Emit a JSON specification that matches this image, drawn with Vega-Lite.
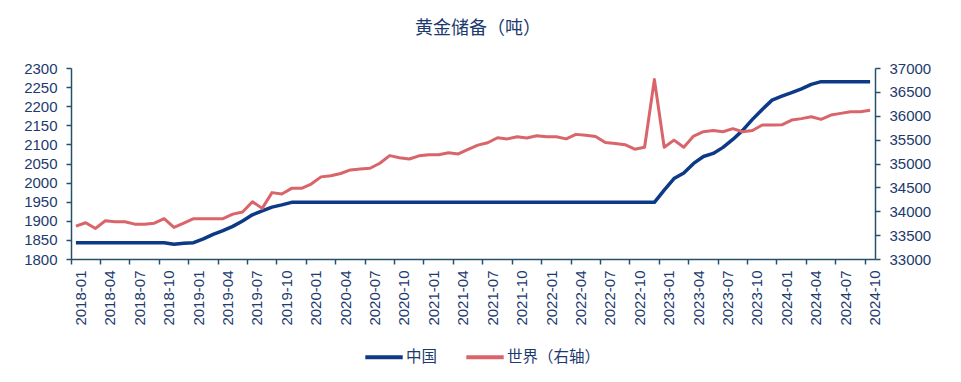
{
"$schema": "https://vega.github.io/schema/vega-lite/v6.json",
"autosize": "none",
"width": 804,
"height": 191,
"padding": {"left": 71, "top": 68, "right": 86, "bottom": 123},
"background": "white",
"title": {"text": "黄金储备（吨）", "font": "Noto Sans CJK SC", "fontSize": 18, "fontWeight": "normal", "color": "#1c3a6e", "anchor": "middle", "offset": 23, "dx": 5},
"config": {
  "view": {"stroke": null},
  "axis": {"grid": false, "domainColor": "#24506e", "tickColor": "#24506e", "labelColor": "#1c3a6e", "labelFont": "Liberation Sans", "labelFontSize": 15, "domainWidth": 1.5, "tickWidth": 1.5, "tickSize": 5, "title": null},
  "legend": {"orient": "none", "legendX": 292, "legendY": 268, "direction": "horizontal", "symbolType": "stroke", "symbolStrokeWidth": 4, "symbolSize": 1400, "labelFont": "Noto Sans CJK SC", "labelFontSize": 15.5, "labelColor": "#1c3a6e", "labelOffset": 1, "columnPadding": 20, "title": null}
},
"datasets": {
"rows": [
{"m":"2018-01","s":"中国","v":1842.6},{"m":"2018-02","s":"中国","v":1842.6},{"m":"2018-03","s":"中国","v":1842.6},{"m":"2018-04","s":"中国","v":1842.6},{"m":"2018-05","s":"中国","v":1842.6},{"m":"2018-06","s":"中国","v":1842.6},{"m":"2018-07","s":"中国","v":1842.6},{"m":"2018-08","s":"中国","v":1842.6},{"m":"2018-09","s":"中国","v":1842.6},{"m":"2018-10","s":"中国","v":1842.6},{"m":"2018-11","s":"中国","v":1838.5},{"m":"2018-12","s":"中国","v":1841},
{"m":"2019-01","s":"中国","v":1842.6},{"m":"2019-02","s":"中国","v":1852.5},{"m":"2019-03","s":"中国","v":1864.3},{"m":"2019-04","s":"中国","v":1874.3},{"m":"2019-05","s":"中国","v":1885.5},{"m":"2019-06","s":"中国","v":1899.5},{"m":"2019-07","s":"中国","v":1915.7},{"m":"2019-08","s":"中国","v":1925.9},{"m":"2019-09","s":"中国","v":1935.8},{"m":"2019-10","s":"中国","v":1941.6},{"m":"2019-11","s":"中国","v":1948.3},{"m":"2019-12","s":"中国","v":1948.3},
{"m":"2020-01","s":"中国","v":1948.3},{"m":"2020-02","s":"中国","v":1948.3},{"m":"2020-03","s":"中国","v":1948.3},{"m":"2020-04","s":"中国","v":1948.3},{"m":"2020-05","s":"中国","v":1948.3},{"m":"2020-06","s":"中国","v":1948.3},{"m":"2020-07","s":"中国","v":1948.3},{"m":"2020-08","s":"中国","v":1948.3},{"m":"2020-09","s":"中国","v":1948.3},{"m":"2020-10","s":"中国","v":1948.3},{"m":"2020-11","s":"中国","v":1948.3},{"m":"2020-12","s":"中国","v":1948.3},
{"m":"2021-01","s":"中国","v":1948.3},{"m":"2021-02","s":"中国","v":1948.3},{"m":"2021-03","s":"中国","v":1948.3},{"m":"2021-04","s":"中国","v":1948.3},{"m":"2021-05","s":"中国","v":1948.3},{"m":"2021-06","s":"中国","v":1948.3},{"m":"2021-07","s":"中国","v":1948.3},{"m":"2021-08","s":"中国","v":1948.3},{"m":"2021-09","s":"中国","v":1948.3},{"m":"2021-10","s":"中国","v":1948.3},{"m":"2021-11","s":"中国","v":1948.3},{"m":"2021-12","s":"中国","v":1948.3},
{"m":"2022-01","s":"中国","v":1948.3},{"m":"2022-02","s":"中国","v":1948.3},{"m":"2022-03","s":"中国","v":1948.3},{"m":"2022-04","s":"中国","v":1948.3},{"m":"2022-05","s":"中国","v":1948.3},{"m":"2022-06","s":"中国","v":1948.3},{"m":"2022-07","s":"中国","v":1948.3},{"m":"2022-08","s":"中国","v":1948.3},{"m":"2022-09","s":"中国","v":1948.3},{"m":"2022-10","s":"中国","v":1948.3},{"m":"2022-11","s":"中国","v":1948.3},{"m":"2022-12","s":"中国","v":1948.3},
{"m":"2023-01","s":"中国","v":1980.4},{"m":"2023-02","s":"中国","v":2010.5},{"m":"2023-03","s":"中国","v":2025.4},{"m":"2023-04","s":"中国","v":2050.3},{"m":"2023-05","s":"中国","v":2068.3},{"m":"2023-06","s":"中国","v":2076.4},{"m":"2023-07","s":"中国","v":2092.2},{"m":"2023-08","s":"中国","v":2113},{"m":"2023-09","s":"中国","v":2136.8},{"m":"2023-10","s":"中国","v":2165.5},{"m":"2023-11","s":"中国","v":2191.6},{"m":"2023-12","s":"中国","v":2215.9},
{"m":"2024-01","s":"中国","v":2226.2},{"m":"2024-02","s":"中国","v":2235.4},{"m":"2024-03","s":"中国","v":2245.3},{"m":"2024-04","s":"中国","v":2257.1},{"m":"2024-05","s":"中国","v":2264.3},{"m":"2024-06","s":"中国","v":2264.3},{"m":"2024-07","s":"中国","v":2264.3},{"m":"2024-08","s":"中国","v":2264.3},{"m":"2024-09","s":"中国","v":2264.3},{"m":"2024-10","s":"中国","v":2264.3},
{"m":"2018-01","s":"世界（右轴）","v":33690},{"m":"2018-02","s":"世界（右轴）","v":33760},{"m":"2018-03","s":"世界（右轴）","v":33640},{"m":"2018-04","s":"世界（右轴）","v":33800},{"m":"2018-05","s":"世界（右轴）","v":33780},{"m":"2018-06","s":"世界（右轴）","v":33780},{"m":"2018-07","s":"世界（右轴）","v":33730},{"m":"2018-08","s":"世界（右轴）","v":33730},{"m":"2018-09","s":"世界（右轴）","v":33750},{"m":"2018-10","s":"世界（右轴）","v":33845},{"m":"2018-11","s":"世界（右轴）","v":33660},{"m":"2018-12","s":"世界（右轴）","v":33750},
{"m":"2019-01","s":"世界（右轴）","v":33845},{"m":"2019-02","s":"世界（右轴）","v":33845},{"m":"2019-03","s":"世界（右轴）","v":33845},{"m":"2019-04","s":"世界（右轴）","v":33845},{"m":"2019-05","s":"世界（右轴）","v":33940},{"m":"2019-06","s":"世界（右轴）","v":33985},{"m":"2019-07","s":"世界（右轴）","v":34200},{"m":"2019-08","s":"世界（右轴）","v":34060},{"m":"2019-09","s":"世界（右轴）","v":34390},{"m":"2019-10","s":"世界（右轴）","v":34360},{"m":"2019-11","s":"世界（右轴）","v":34480},{"m":"2019-12","s":"世界（右轴）","v":34480},
{"m":"2020-01","s":"世界（右轴）","v":34570},{"m":"2020-02","s":"世界（右轴）","v":34720},{"m":"2020-03","s":"世界（右轴）","v":34745},{"m":"2020-04","s":"世界（右轴）","v":34790},{"m":"2020-05","s":"世界（右轴）","v":34865},{"m":"2020-06","s":"世界（右轴）","v":34885},{"m":"2020-07","s":"世界（右轴）","v":34900},{"m":"2020-08","s":"世界（右轴）","v":35005},{"m":"2020-09","s":"世界（右轴）","v":35165},{"m":"2020-10","s":"世界（右轴）","v":35120},{"m":"2020-11","s":"世界（右轴）","v":35095},{"m":"2020-12","s":"世界（右轴）","v":35160},
{"m":"2021-01","s":"世界（右轴）","v":35185},{"m":"2021-02","s":"世界（右轴）","v":35185},{"m":"2021-03","s":"世界（右轴）","v":35225},{"m":"2021-04","s":"世界（右轴）","v":35200},{"m":"2021-05","s":"世界（右轴）","v":35295},{"m":"2021-06","s":"世界（右轴）","v":35385},{"m":"2021-07","s":"世界（右轴）","v":35435},{"m":"2021-08","s":"世界（右轴）","v":35540},{"m":"2021-09","s":"世界（右轴）","v":35515},{"m":"2021-10","s":"世界（右轴）","v":35560},{"m":"2021-11","s":"世界（右轴）","v":35535},{"m":"2021-12","s":"世界（右轴）","v":35580},
{"m":"2022-01","s":"世界（右轴）","v":35560},{"m":"2022-02","s":"世界（右轴）","v":35560},{"m":"2022-03","s":"世界（右轴）","v":35515},{"m":"2022-04","s":"世界（右轴）","v":35610},{"m":"2022-05","s":"世界（右轴）","v":35590},{"m":"2022-06","s":"世界（右轴）","v":35565},{"m":"2022-07","s":"世界（右轴）","v":35440},{"m":"2022-08","s":"世界（右轴）","v":35420},{"m":"2022-09","s":"世界（右轴）","v":35395},{"m":"2022-10","s":"世界（右轴）","v":35300},{"m":"2022-11","s":"世界（右轴）","v":35340},{"m":"2022-12","s":"世界（右轴）","v":36760},
{"m":"2023-01","s":"世界（右轴）","v":35340},{"m":"2023-02","s":"世界（右轴）","v":35490},{"m":"2023-03","s":"世界（右轴）","v":35340},{"m":"2023-04","s":"世界（右轴）","v":35575},{"m":"2023-05","s":"世界（右轴）","v":35665},{"m":"2023-06","s":"世界（右轴）","v":35690},{"m":"2023-07","s":"世界（右轴）","v":35665},{"m":"2023-08","s":"世界（右轴）","v":35730},{"m":"2023-09","s":"世界（右轴）","v":35665},{"m":"2023-10","s":"世界（右轴）","v":35690},{"m":"2023-11","s":"世界（右轴）","v":35805},{"m":"2023-12","s":"世界（右轴）","v":35805},
{"m":"2024-01","s":"世界（右轴）","v":35810},{"m":"2024-02","s":"世界（右轴）","v":35910},{"m":"2024-03","s":"世界（右轴）","v":35940},{"m":"2024-04","s":"世界（右轴）","v":35980},{"m":"2024-05","s":"世界（右轴）","v":35925},{"m":"2024-06","s":"世界（右轴）","v":36015},{"m":"2024-07","s":"世界（右轴）","v":36050},{"m":"2024-08","s":"世界（右轴）","v":36085},{"m":"2024-09","s":"世界（右轴）","v":36085},{"m":"2024-10","s":"世界（右轴）","v":36115}
]
},
"data": {"name": "rows"},
"layer": [
  {
    "transform": [{"filter": "datum.s === '中国'"}],
    "mark": {"type": "line", "strokeWidth": 3.5, "strokeJoin": "round"},
    "encoding": {
      "x": {"field": "m", "type": "ordinal", "bandPosition": 0.5, "scale": {"type": "band", "paddingInner": 0, "paddingOuter": 0},
        "axis": {"values": ["2018-01","2018-04","2018-07","2018-10","2019-01","2019-04","2019-07","2019-10","2020-01","2020-04","2020-07","2020-10","2021-01","2021-04","2021-07","2021-10","2022-01","2022-04","2022-07","2022-10","2023-01","2023-04","2023-07","2023-10","2024-01","2024-04","2024-07","2024-10"], "labelAngle": -90, "bandPosition": 0, "labelOffset": 5, "labelPadding": 6}},
      "y": {"field": "v", "type": "quantitative", "scale": {"domain": [1800, 2300], "nice": false, "zero": false},
        "axis": {"orient": "left", "values": [1800,1850,1900,1950,2000,2050,2100,2150,2200,2250,2300], "labelPadding": 9, "format": "d"}},
      "color": {"field": "s", "type": "nominal", "scale": {"domain": ["中国", "世界（右轴）"], "range": ["#0d3a86", "#d9646a"]}}
    }
  },
  {
    "transform": [{"filter": "datum.s === '世界（右轴）'"}],
    "mark": {"type": "line", "strokeWidth": 3, "strokeJoin": "round"},
    "encoding": {
      "x": {"field": "m", "type": "ordinal", "bandPosition": 0.5},
      "y": {"field": "v", "type": "quantitative", "scale": {"domain": [33000, 37000], "nice": false, "zero": false},
        "axis": {"orient": "right", "values": [33000,33500,34000,34500,35000,35500,36000,36500,37000], "labelPadding": 9, "format": "d"}},
      "color": {"field": "s", "type": "nominal"}
    }
  }
],
"resolve": {"scale": {"y": "independent"}}
}
